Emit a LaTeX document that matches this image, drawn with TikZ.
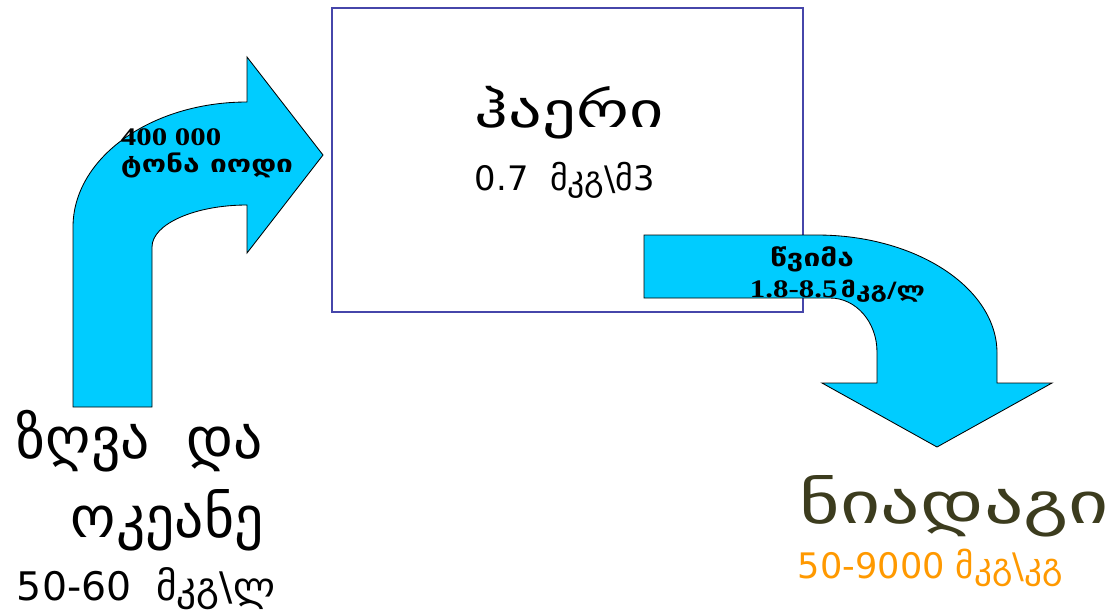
\documentclass[tikz,border=0pt]{standalone}
\usepackage{fontspec}
\setmainfont{DejaVu Sans}
\newfontfamily\widefont[FakeStretch=1.35]{DejaVu Sans}
\newfontfamily\flowfont[FakeStretch=1.25]{DejaVu Sans}
\newfontfamily\numfont[FakeStretch=1.22]{Liberation Serif}
\definecolor{arrowcyan}{RGB}{0,204,255}
\definecolor{boxblue}{RGB}{70,70,170}
\definecolor{soilolive}{RGB}{60,60,30}
\definecolor{soilorange}{RGB}{255,153,0}
\tikzset{flowarrow/.style={fill=arrowcyan,draw=black,line width=0.6pt,line join=miter}}

\begin{document}
\begin{tikzpicture}[x=0.025cm,y=-0.025cm]
\useasboundingbox (0,0) rectangle (1115,614);
% air box
\draw[boxblue,line width=0.8pt] (332,8) rectangle (803,312);
\node[font=\widefont\fontsize{35}{40}\selectfont,anchor=base west] (air) at (470,127) {ჰაერი};
\node[font=\fontsize{24}{28}\selectfont,anchor=base west] (airval) at (470,190) {0.7\ \ მკგ\textbackslash მ3};

% sea -> air
\draw[flowarrow] (73,407) -- (73,227) .. controls (73,158) and (151,102) .. (247,102)
  -- (247,57) -- (323,155) -- (247,253) -- (247,205)
  .. controls (195,205) and (152,224) .. (152,247) -- (152,407) -- cycle;
\node[font=\fontsize{18}{20}\selectfont\bfseries,anchor=base west] (seaflow) at (116,145) {\numfont 400 000};
\node[font=\flowfont\fontsize{17}{20}\selectfont\bfseries,anchor=base west] (seaunit) at (116,172) {ტონა იოდი};

% air -> soil
\draw[flowarrow] (644,235) -- (817,235) .. controls (916,235) and (997,288) .. (997,353)
  -- (997,383) -- (1052,383) -- (937,447) -- (822,383) -- (877,383) -- (877,352)
  .. controls (877,322) and (856,298) .. (830,298) -- (644,298) -- cycle;
\node[font=\flowfont\fontsize{17}{20}\selectfont\bfseries,anchor=base] (rain) at (812,266) {წვიმა};
\node[font=\flowfont\fontsize{15}{20}\selectfont\bfseries,anchor=base west] (rainval) at (745,297) {{\numfont\fontsize{18}{20}\selectfont 1.8-8.5}\,მკგ/ლ};

% sea and ocean
\node[font=\fontsize{41}{48}\selectfont,anchor=base west] (sea) at (12,458) {ზღვა\ \ და};
\node[font=\fontsize{41}{48}\selectfont,anchor=base west] (ocean) at (66,537) {ოკეანე};
\node[font=\fontsize{28}{32}\selectfont,anchor=base west] (seaval) at (12,600) {50-60\ \ მკგ\textbackslash ლ};

% soil
\node[font=\widefont\fontsize{41}{48}\selectfont,text=soilolive,anchor=base west] (soil) at (795,523) {ნიადაგი};
\node[font=\fontsize{25}{28}\selectfont,text=soilorange,anchor=base west] (soilval) at (793,578) {50-9000 მკგ\textbackslash კგ};
\end{tikzpicture}
\end{document}
